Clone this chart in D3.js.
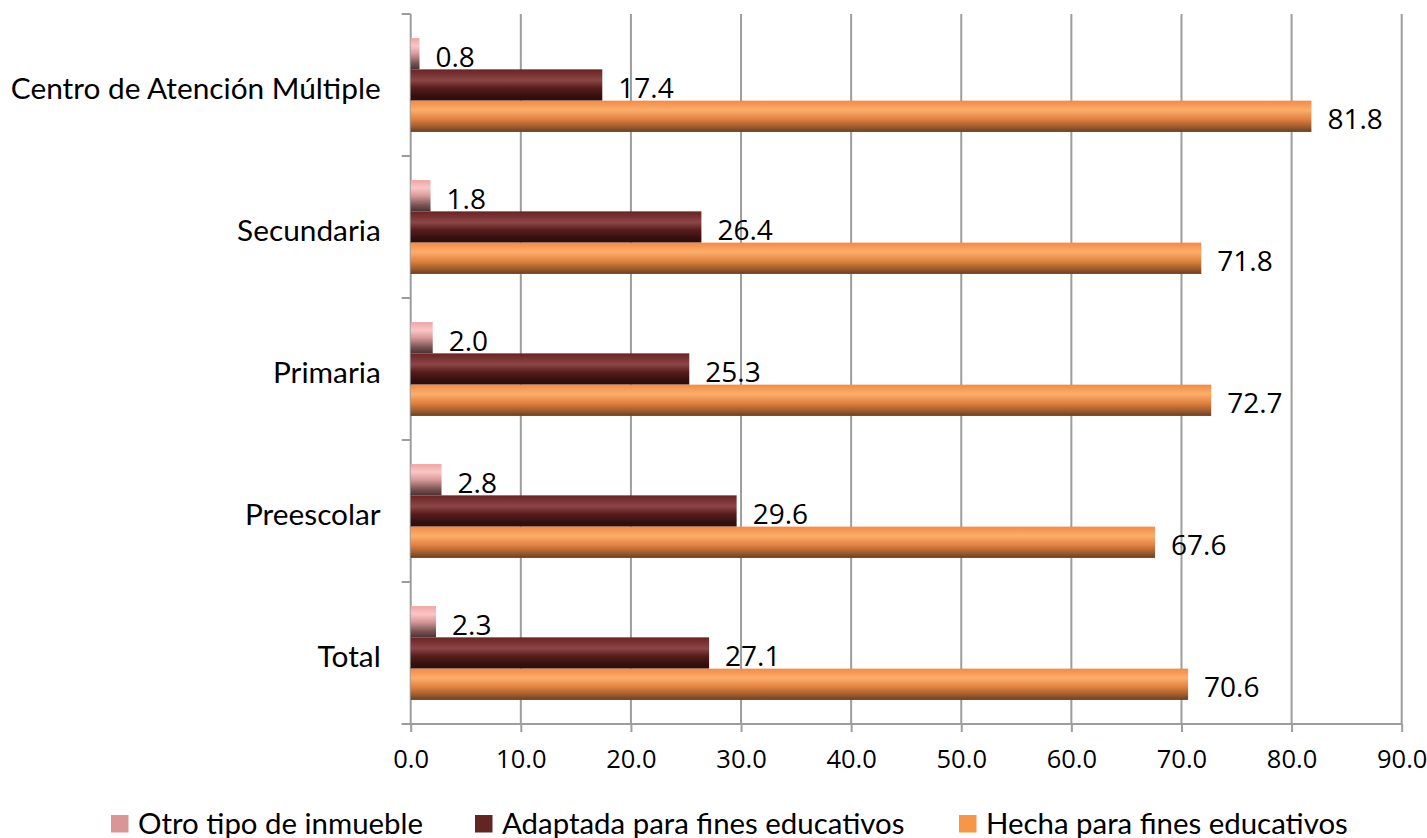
<!DOCTYPE html>
<html><head><meta charset="utf-8">
<script src="https://cdn.jsdelivr.net/npm/d3@7"></script>
<style>
html,body{margin:0;padding:0;background:#fff;}
svg text{font-family:"Open Sans","Noto Sans",sans-serif;fill:#000;}
svg text.w{font-family:Lato,"Open Sans",sans-serif;}
</style></head>
<body><svg id="c" width="1427" height="838"></svg>
<script>
const categories = ["Centro de Atención Múltiple","Secundaria","Primaria","Preescolar","Total"];
const seriesNames = ["Otro tipo de inmueble","Adaptada para fines educativos","Hecha para fines educativos"];
const otro = [0.8, 1.8, 2.0, 2.8, 2.3];
const adaptada = [17.4, 26.4, 25.3, 29.6, 27.1];
const hecha = [81.8, 71.8, 72.7, 67.6, 70.6];
const xTicks = [0,10,20,30,40,50,60,70,80,90];
const legendColors = ["#d99694","#632523","#f79646"];

(function(){
const series = [otro, adaptada, hecha];
const svg = d3.select("#c");
const pL = 410.7, pR = 1401.7, pT = 14, pB = 724;
const x = d3.scaleLinear().domain([0,90]).range([pL,pR]);
const y = d3.scaleBand().domain(categories).range([pT,pB]).paddingInner(0).paddingOuter(0);
const ys = d3.scaleBand().domain(seriesNames).range([0,y.bandwidth()]).paddingInner(0).paddingOuter(0.77);

const defs = svg.append("defs");
const grads = [
  [[0,"#eea4a4"],[0.25,"#fcc6c6"],[0.5,"#d89a9a"],[0.8,"#7a5454"],[1,"#4a3232"]],
  [[0,"#6a2222"],[0.35,"#8c4646"],[0.6,"#571c1c"],[0.85,"#341010"],[1,"#2a0e0e"]],
  [[0,"#f28a44"],[0.3,"#fdae6c"],[0.6,"#e0803e"],[0.85,"#9a5a2c"],[1,"#6a3e1e"]]
];
grads.forEach((g,i)=>{
  const lg = defs.append("linearGradient").attr("id","g"+i).attr("x1",0).attr("y1",0).attr("x2",0).attr("y2",1);
  g.forEach(s=>lg.append("stop").attr("offset",s[0]).attr("stop-color",s[1]));
});

svg.append("g").selectAll("line").data(xTicks.slice(1)).join("line")
  .attr("x1",d=>x(d)).attr("x2",d=>x(d)).attr("y1",pT).attr("y2",pB)
  .attr("stroke","#9d9d9d").attr("stroke-width",2);

const xa = svg.append("g").attr("transform",`translate(0,${pB})`)
  .call(d3.axisBottom(x).tickValues(xTicks).tickFormat(d3.format(".1f")).tickSizeOuter(0).tickSizeInner(8));
xa.select(".domain").attr("stroke","#9d9d9d").attr("stroke-width",2).attr("d",`M${pL-9},0H${pR}`);
xa.selectAll(".tick line").attr("stroke","#9d9d9d").attr("stroke-width",2);
xa.selectAll("text").attr("font-size",25.5).attr("y",35).attr("dy","0.35em");

const ya = svg.append("g").attr("transform",`translate(${pL},0)`);
ya.append("line").attr("x1",0).attr("x2",0).attr("y1",pT).attr("y2",pB).attr("stroke","#9d9d9d").attr("stroke-width",2);
const bounds = categories.map(c=>y(c)).concat([pB]);
ya.selectAll(".yt").data(bounds).join("line").attr("class","yt")
  .attr("x1",-9).attr("x2",0).attr("y1",d=>d).attr("y2",d=>d).attr("stroke","#9d9d9d").attr("stroke-width",2);
ya.selectAll(".yl").data(categories).join("text").attr("class","yl w")
  .attr("x",-30).attr("y",c=>y(c)+y.bandwidth()/2+2).attr("text-anchor","end").attr("dominant-baseline","central")
  .attr("font-size",29.8).text(c=>c);

series.forEach((vals,si)=>{
  const g = svg.append("g");
  g.selectAll("rect").data(vals).join("rect")
    .attr("x",x(0)).attr("y",(d,i)=>y(categories[i])+ys(seriesNames[si]))
    .attr("width",d=>x(d)-x(0)).attr("height",ys.bandwidth())
    .attr("fill",`url(#g${si})`);
  g.selectAll("text").data(vals).join("text")
    .attr("x",d=>x(d)+16).attr("y",(d,i)=>y(categories[i])+ys(seriesNames[si])+ys.bandwidth()/2+2)
    .attr("dominant-baseline","central").attr("font-size",28).text(d=>d3.format(".1f")(d));
});

const legX = [111, 475, 959];
const lg = svg.append("g");
seriesNames.forEach((n,i)=>{
  lg.append("rect").attr("x",legX[i]).attr("y",815).attr("width",17.5).attr("height",17.5).attr("fill",legendColors[i]);
  lg.append("text").attr("class","w").attr("x",legX[i]+27).attr("y",822).attr("dominant-baseline","central").attr("font-size",29.4).text(n);
});
})();
</script></body></html>
